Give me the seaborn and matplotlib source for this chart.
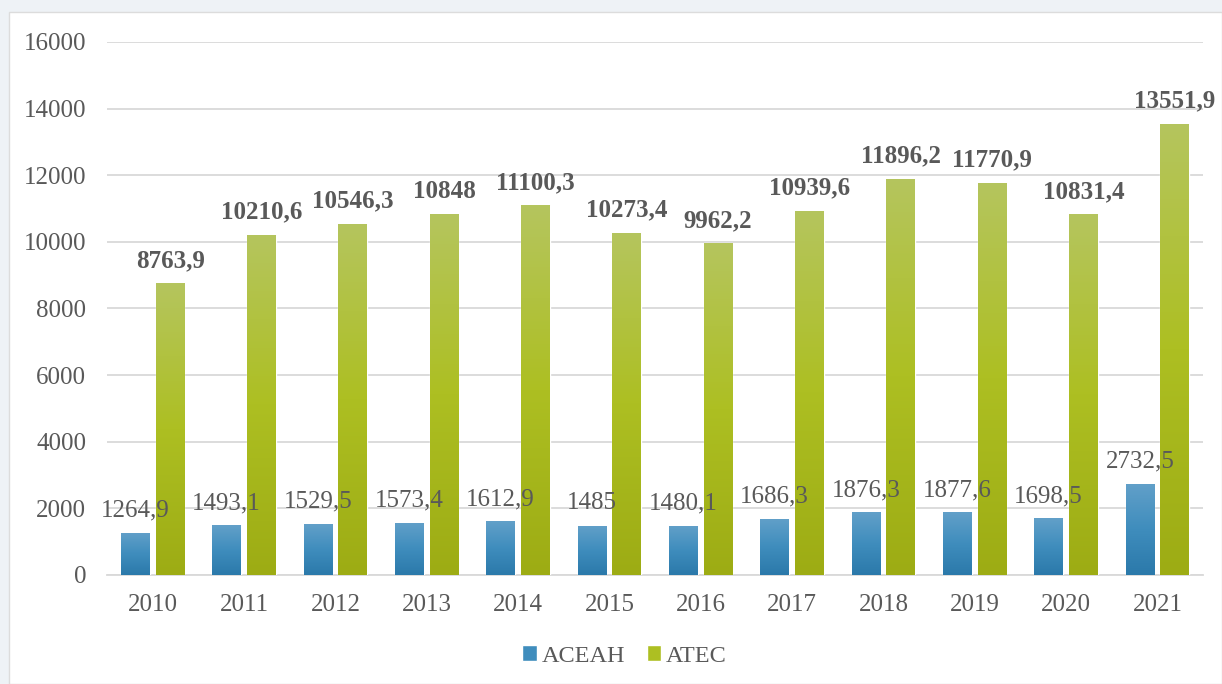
import matplotlib.pyplot as plt
import matplotlib.patches as mpatches
from matplotlib.colors import LinearSegmentedColormap
import numpy as np
import pandas as pd
import seaborn as sns

years = ['2010', '2011', '2012', '2013', '2014', '2015', '2016', '2017', '2018', '2019', '2020', '2021']
aceah = [1264.9, 1493.1, 1529.5, 1573.4, 1612.9, 1485, 1480.1, 1686.3, 1876.3, 1877.6, 1698.5, 2732.5]
atec = [8763.9, 10210.6, 10546.3, 10848, 11100.3, 10273.4, 9962.2, 10939.6, 11896.2, 11770.9, 10831.4, 13551.9]
series = ['ACEAH', 'ATEC']

df = pd.DataFrame({
    'year': years * 2,
    'series': ['ACEAH'] * len(years) + ['ATEC'] * len(years),
    'value': aceah + atec,
})

text_color = '#595959'
blue_stops = ['#62a0c9', '#3f8dbd', '#2b79aa']
green_stops = ['#b5c55e', '#adbf22', '#9dac14']

sns.set_theme(style='white')
plt.rcParams['font.family'] = ['Liberation Serif', 'DejaVu Serif']

fig = plt.figure(figsize=(12.22, 6.84), dpi=100)
fig.patch.set_facecolor('#eef2f6')
# white chart panel on top of the pale page background
fig.patches.append(mpatches.Rectangle((9 / 1222, 0), 1 - 9 / 1222, 672 / 684, transform=fig.transFigure,
                                      facecolor='white', edgecolor='#dcdcdc', linewidth=1, zorder=-10))

ax = fig.add_axes([0.0876, 0.1594, 0.8969, 0.7792])
ax.set_facecolor('none')

sns.barplot(data=df, x='year', y='value', hue='series', order=years, hue_order=series,
            palette=[blue_stops[1], green_stops[1]], width=0.76, gap=0.17,
            saturation=1, legend=False, ax=ax, zorder=3)

# vertical gradient fill on every bar
cmaps = [LinearSegmentedColormap.from_list('b', blue_stops[::-1]),
         LinearSegmentedColormap.from_list('g', green_stops[::-1])]
grad = np.linspace(0, 1, 256).reshape(-1, 1)
n = len(years)
for i, patch in enumerate(ax.patches):
    x, w, h = patch.get_x(), patch.get_width(), patch.get_height()
    im = ax.imshow(grad, extent=[x, x + w, 0, h], origin='lower', aspect='auto',
                   cmap=cmaps[i // n], zorder=3.5)
    im.set_clip_path(patch)

# data labels
for i, patch in enumerate(ax.patches):
    v = patch.get_height()
    label = f'{v:g}'.replace('.', ',')
    bold = i >= n
    ax.annotate(label, (patch.get_x() + patch.get_width() / 2, v), xytext=(0, 8),
                textcoords='offset points', ha='center', va='bottom', fontsize=18,
                fontweight='bold' if bold else 'normal', color=text_color, zorder=5)

ax.set_xlim(-0.5, n - 0.5)
ax.set_ylim(0, 16000)
ax.set_yticks(range(0, 16001, 2000))
ax.yaxis.grid(True, color='#d9d9d9', linewidth=1.3, zorder=0)
ax.set_axisbelow(True)
for s in ['top', 'right', 'left']:
    ax.spines[s].set_visible(False)
ax.spines['bottom'].set_color('#d9d9d9')
ax.spines['bottom'].set_linewidth(1.3)
ax.tick_params(axis='y', length=0, pad=15, labelsize=18, labelcolor=text_color)
ax.tick_params(axis='x', length=0, pad=14, labelsize=18, labelcolor=text_color)
ax.set_xlabel('')
ax.set_ylabel('')

handles = [mpatches.Patch(facecolor=blue_stops[1], label='ACEAH'),
           mpatches.Patch(facecolor=green_stops[1], label='ATEC')]
fig.legend(handles=handles, loc='center', bbox_to_anchor=(0.511, 0.041), ncol=2, frameon=False,
           fontsize=17.5, labelcolor=text_color, handlelength=0.6, handleheight=0.6,
           handletextpad=0.2, columnspacing=0.9)

fig.savefig('out.png', dpi=100, facecolor=fig.get_facecolor())
